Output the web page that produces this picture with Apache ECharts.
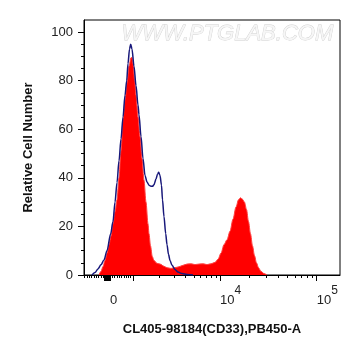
<!DOCTYPE html>
<html>
<head>
<meta charset="utf-8">
<script src="https://cdn.jsdelivr.net/npm/echarts@6/dist/echarts.min.js"></script>
<style>html,body{margin:0;padding:0;background:#fff;}#c{width:361px;height:356px;}</style>
</head>
<body>
<div id="c"></div>
<script>
// X values are display channels of the biexponential axis (0..256 across the plot)
const redX = [15, 17, 19, 21, 23, 25, 27, 29, 31, 33, 35, 37, 39, 41, 43, 45, 47, 48, 49, 50.7, 52, 54, 56, 58, 60, 62, 64, 65, 66.5, 68.3, 70, 73, 76, 80, 83, 87, 91, 95, 99, 103, 107, 111, 115, 119, 123, 127, 131, 134, 137, 140, 143, 146, 149, 152, 154.5, 156.5, 158.5, 160.5, 162.5, 164.5, 166.5, 168.5, 170.5, 172.5, 174.5, 177, 180, 183];
const redY = [0, 1.5, 3.5, 6, 9, 12.5, 16, 21, 26, 31, 40, 51, 64, 72, 79, 86, 89.5, 89.5, 87, 80, 74, 65, 57, 48, 39, 30, 21, 17, 12, 7.6, 6, 4.8, 4.5, 3.6, 3, 2.7, 3, 3.4, 4, 4.5, 4.6, 4.3, 4.5, 4.6, 4.3, 4.6, 5.2, 6.5, 9, 12.5, 14.5, 18, 23, 28, 31, 31.8, 31.2, 30, 27, 22, 17, 12, 8, 5, 3, 1.5, 0.6, 0];
const blueX = [8, 11, 14, 17, 20, 23, 26.7, 29, 31, 33, 35, 37, 39, 41, 42.7, 44, 45.5, 46.7, 48, 50, 52, 54, 55, 57, 59, 61, 63, 65, 67, 68.5, 70, 72, 73.5, 74.7, 76, 77.5, 78.5, 80, 81.7, 83, 84.5, 86, 88, 91, 94, 98, 103, 109];
const blueY = [0, 1, 2.5, 4.2, 6.2, 10, 17, 22, 30, 38, 47, 56, 65, 74, 80, 87, 93, 95, 93, 86, 78, 70, 66, 57, 48, 41, 38.3, 37, 36.5, 36.5, 37.2, 39.5, 41.5, 42.3, 41, 37, 31, 24, 17, 12.5, 8.5, 6, 4, 2.3, 1.2, 0.6, 0.2, 0];
// Axis tick values (fluorescence intensity)
const majorTickValues = [1e3, 1e4, 1e5];
const minorTickValues = [-1100, -1000, -900, -800, -700, -600, -500, -400, -300, 100, 200, 300, 400, 500, 600, 700, 800, 900,
  2e3, 3e3, 4e3, 5e3, 6e3, 7e3, 8e3, 9e3, 2e4, 3e4, 4e4, 5e4, 6e4, 7e4, 8e4, 9e4];
const labelValues = [0, 1e4, 1e5];
const labelBase = ['0', '10', '10'];
const labelExp = ['', '4', '5'];
const yTicks = [0, 20, 40, 60, 80, 100];

// biexponential display transform: intensity -> display channel
function toDisp(v) {
  if (v < 1000) return 26 + v * 0.023;
  const L = Math.log10(v);
  if (L <= 4) return 49 + (L - 3) * 87;
  return 136 + (L - 4) * 96.7;
}
const zeroBlock = [];
for (let v = -250; v <= 0; v += 8) zeroBlock.push(v);
const majorDisp = majorTickValues.concat(zeroBlock).map(toDisp);
const minorDisp = minorTickValues.map(toDisp);
const labelDisp = labelValues.map(toDisp);

const FONT = 'Liberation Sans, Arial, sans-serif';
const chart = echarts.init(document.getElementById('c'), null, {renderer: 'canvas'});
chart.setOption({
  animation: false,
  backgroundColor: '#fff',
  grid: {left: 84, top: 20, width: 256, height: 255, show: true, borderColor: '#000', borderWidth: 1, backgroundColor: 'transparent'},
  graphic: [{
    type: 'text', left: 121, top: 22, z: 0,
    style: {text: 'WWW.PTGLAB.COM', font: 'italic 22px ' + FONT, fill: '#f6f6f6', stroke: '#d0d0d0', lineWidth: 0.8}
  }],
  xAxis: [{
    type: 'value', min: 0, max: 256, position: 'bottom',
    name: 'CL405-98184(CD33),PB450-A', nameLocation: 'middle', nameGap: 48,
    nameTextStyle: {fontFamily: FONT, fontWeight: 'bold', fontSize: 13, color: '#111'},
    axisLine: {show: true, lineStyle: {color: '#000', width: 1}},
    axisTick: {show: true, length: 6, customValues: majorDisp, lineStyle: {color: '#000', width: 1}},
    axisLabel: {
      show: true, customValues: labelDisp, align: 'left', margin: 10,
      formatter: function (val) {
        let best = 0;
        for (let i = 0; i < labelDisp.length; i++) if (Math.abs(labelDisp[i] - val) < Math.abs(labelDisp[best] - val)) best = i;
        return '{b|' + labelBase[best] + '}' + (labelExp[best] ? '{s|' + labelExp[best] + '}' : '');
      },
      rich: {
        b: {fontFamily: FONT, fontSize: 13, color: '#222', lineHeight: 22, verticalAlign: 'bottom'},
        s: {fontFamily: FONT, fontSize: 12, color: '#222', lineHeight: 22, verticalAlign: 'top'}
      }
    },
    splitLine: {show: false}
  }, {
    type: 'value', min: 0, max: 256, position: 'bottom',
    axisLine: {show: false},
    axisTick: {show: true, length: 3, customValues: minorDisp, lineStyle: {color: '#000', width: 1}},
    axisLabel: {show: false},
    splitLine: {show: false}
  }],
  yAxis: {
    type: 'value', min: 0, max: 105, interval: 20,
    name: 'Relative Cell Number', nameLocation: 'middle', nameGap: 49,
    nameTextStyle: {fontFamily: FONT, fontWeight: 'bold', fontSize: 13, color: '#111'},
    axisLine: {show: true, lineStyle: {color: '#000', width: 1}},
    axisTick: {show: true, length: 6, customValues: yTicks, lineStyle: {color: '#000'}},
    minorTick: {show: true, splitNumber: 4, length: 3, lineStyle: {color: '#000'}},
    axisLabel: {customValues: yTicks, margin: 11, fontFamily: FONT, fontSize: 13, color: '#222'},
    splitLine: {show: false}
  },
  series: [{
    type: 'line', xAxisIndex: 0, data: redX.map((x, i) => [x, redY[i]]),
    showSymbol: false, smooth: 0.3, smoothMonotone: 'x', z: 2,
    lineStyle: {color: '#ff4040', width: 1},
    areaStyle: {color: '#ff0000', opacity: 1}
  }, {
    type: 'line', xAxisIndex: 0, data: blueX.map((x, i) => [x, blueY[i]]),
    showSymbol: false, smooth: 0.3, smoothMonotone: 'x', z: 3,
    lineStyle: {color: '#17177a', width: 1.5}
  }]
});
</script>
</body>
</html>
